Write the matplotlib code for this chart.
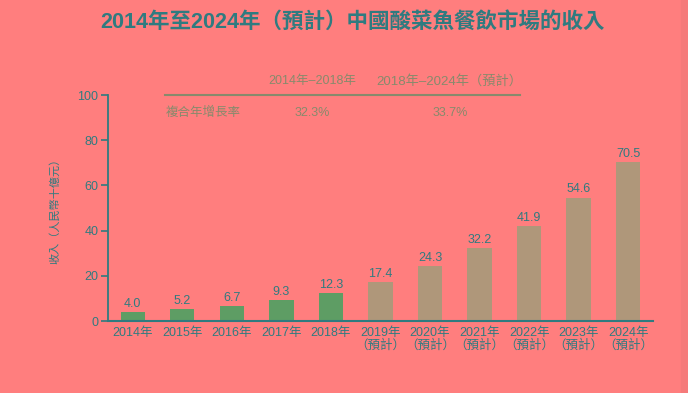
import matplotlib
matplotlib.use("Agg")
import matplotlib.pyplot as plt
from matplotlib.patches import Rectangle

plt.rcParams['font.family'] = ['Liberation Sans', 'Noto Sans CJK TC', 'DejaVu Sans']

# data
years = ['2014年', '2015年', '2016年', '2017年', '2018年',
         '2019年\n（預計）', '2020年\n（預計）', '2021年\n（預計）',
         '2022年\n（預計）', '2023年\n（預計）', '2024年\n（預計）']
revenue = [4.0, 5.2, 6.7, 9.3, 12.3, 17.4, 24.3, 32.2, 41.9, 54.6, 70.5]
n_actual = 5  # 2014-2018 actual, rest forecast

cagr_periods = ['2014年–2018年', '2018年–2024年（預計）']
cagr_values = ['32.3%', '33.7%']

# colours
bg = '#FF7E7E'
teal = '#2F7B80'
green = '#5E9D64'
tan = '#AF977A'
olive = '#878A6C'

fig = plt.figure(figsize=(6.88, 3.93), dpi=100, facecolor=bg)
ax = fig.add_axes([0.157, 0.183, 0.792, 0.575])
ax.set_facecolor(bg)

colors = [green if i < n_actual else tan for i in range(len(revenue))]
xs = list(range(len(revenue)))
ax.bar(xs, revenue, width=0.49, color=colors, zorder=2)

for x, v in zip(xs, revenue):
    ax.text(x, v + 1.0, f'{v:.1f}', ha='center', va='bottom',
            fontsize=9, color=teal)

ax.set_xlim(-0.5, 10.5)
ax.set_ylim(0, 100)
ax.set_yticks([0, 20, 40, 60, 80, 100])
ax.set_xticks(xs)
ax.set_xticklabels(years, fontsize=9, color=teal, linespacing=1.05)
ax.tick_params(axis='x', length=0, pad=4)
ax.tick_params(axis='y', length=5, width=1.2, color=teal,
               labelsize=9, labelcolor=teal, pad=2)

for s in ['top', 'right']:
    ax.spines[s].set_visible(False)
ax.spines['left'].set_color(teal)
ax.spines['bottom'].set_color(teal)
ax.spines['left'].set_linewidth(1.3)
ax.spines['bottom'].set_linewidth(1.5)

ax.set_ylabel('收入（人民幣十億元）', fontsize=8, color=teal, labelpad=12)

# title
fig.text(0.512, 0.943, '2014年至2024年（預計）中國酸菜魚餐飲市場的收入',
         ha='center', va='center', fontsize=15.5, fontweight='bold', color=teal)

# CAGR table
fig.text(312 / 688, 1 - 81 / 393, cagr_periods[0], ha='center', va='center',
         fontsize=9, color=olive)
fig.text(449 / 688, 1 - 81 / 393, cagr_periods[1], ha='center', va='center',
         fontsize=9.5, color=olive)
fig.add_artist(plt.Line2D([165 / 688, 520 / 688], [1 - 95 / 393, 1 - 95 / 393],
                          color=olive, linewidth=1.5, transform=fig.transFigure))
fig.text(166 / 688, 1 - 113 / 393, '複合年增長率', ha='left', va='center',
         fontsize=9, color=olive)
fig.text(312 / 688, 1 - 113 / 393, cagr_values[0], ha='center', va='center',
         fontsize=9, color=olive)
fig.text(450 / 688, 1 - 113 / 393, cagr_values[1], ha='center', va='center',
         fontsize=9, color=olive)

# faint strip on right edge
fig.add_artist(Rectangle((681 / 688, 0), 7 / 688, 1, transform=fig.transFigure,
                         color='#F57A7A', zorder=-1))

fig.savefig('out.png', dpi=100, facecolor=bg)
